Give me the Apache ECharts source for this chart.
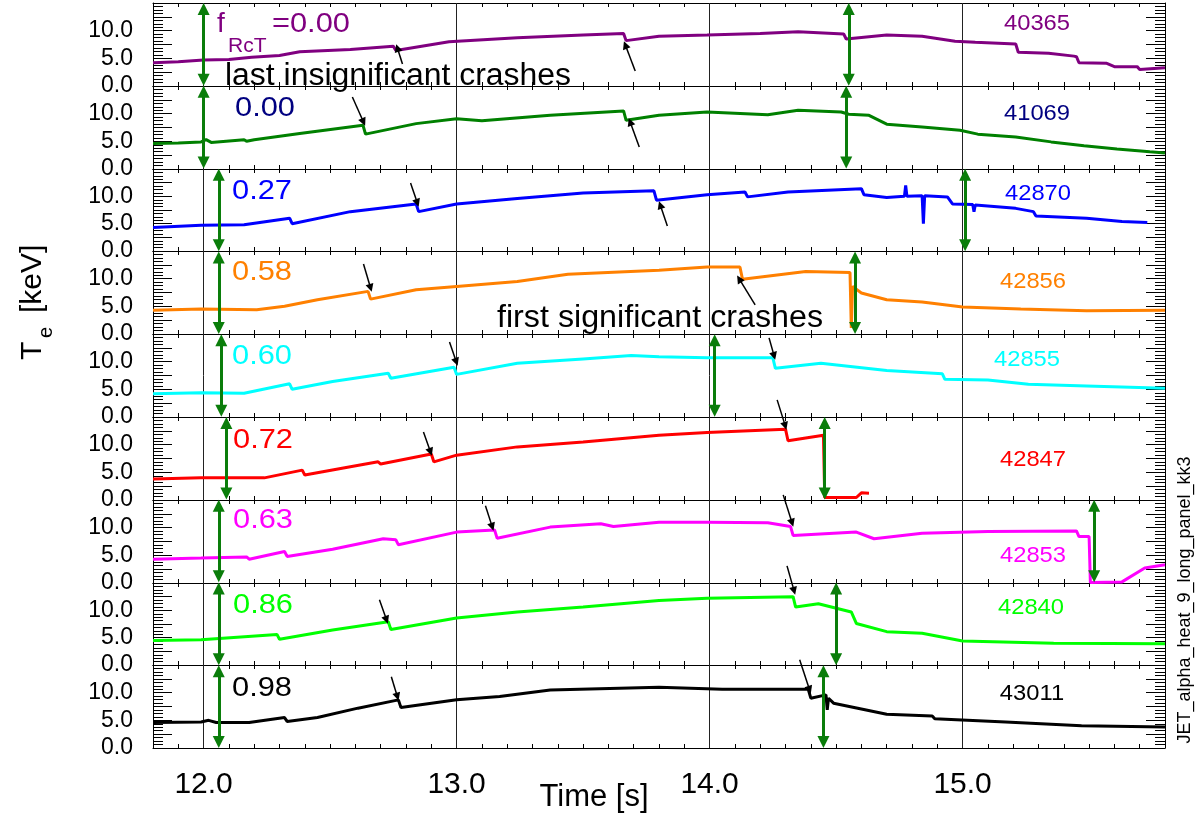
<!DOCTYPE html>
<html>
<head>
<meta charset="utf-8">
<title>JET alpha heat - Te traces</title>
<script src="https://cdn.jsdelivr.net/npm/echarts@6/dist/echarts.min.js"></script>
<style>
html, body { margin: 0; padding: 0; background: #fff; }
#chart { width: 1196px; height: 818px; }
</style>
</head>
<body>
<div id="chart"></div>
<script>
// panels, top to bottom
var shots = ['40365', '41069', '42870', '42856', '42855', '42847', '42853', '42840', '43011'];
var fRcT = ['0.00', '0.00', '0.27', '0.58', '0.60', '0.72', '0.63', '0.86', '0.98'];
var lineColors = ['#800080', '#008000', '#0000ff', '#ff8000', '#00ffff', '#ff0000', '#ff00ff', '#00ff00', '#000000'];
var textColors = ['#800080', '#000080', '#0000ff', '#ff8000', '#00ffff', '#ff0000', '#ff00ff', '#00ff00', '#000000'];

// Te [keV] against time [s]
var time40365 = [11.80, 11.90, 12.00, 12.10, 12.19, 12.30, 12.38, 12.58, 12.75, 12.76, 12.97, 13.24, 13.50, 13.66, 13.67, 13.80, 13.99, 14.20, 14.35, 14.53, 14.54, 14.70, 14.84, 14.97, 15.05, 15.21, 15.22, 15.34, 15.44, 15.45, 15.46, 15.57, 15.60, 15.69, 15.70, 15.80];
var te40365 = [4.2, 4.4, 4.7, 4.8, 5.2, 5.5, 6.2, 6.6, 7.2, 6.4, 8.0, 8.7, 9.2, 9.5, 8.2, 9.0, 9.2, 9.5, 9.8, 9.4, 8.5, 9.2, 9.0, 8.1, 7.9, 7.6, 6.1, 5.9, 5.4, 5.3, 4.2, 4.1, 3.5, 3.5, 3.0, 3.3];

var time41069 = [11.80, 11.90, 11.99, 12.01, 12.03, 12.16, 12.17, 12.20, 12.38, 12.63, 12.64, 12.84, 13.00, 13.10, 13.37, 13.66, 13.67, 13.80, 13.99, 14.23, 14.35, 14.52, 14.55, 14.63, 14.70, 14.84, 14.99, 15.06, 15.21, 15.35, 15.48, 15.61, 15.74, 15.80];
var te41069 = [4.6, 4.7, 4.9, 5.3, 4.8, 5.3, 5.0, 5.3, 6.4, 7.9, 6.3, 8.2, 9.1, 8.7, 9.7, 10.5, 8.8, 9.7, 10.3, 9.8, 10.6, 10.3, 9.9, 9.7, 8.1, 7.6, 7.0, 6.3, 5.8, 4.9, 4.2, 3.6, 3.1, 2.9];

var time42870 = [11.80, 11.99, 12.16, 12.34, 12.35, 12.58, 12.84, 12.85, 13.00, 13.24, 13.50, 13.78, 13.79, 13.99, 14.14, 14.15, 14.31, 14.60, 14.61, 14.70, 14.77, 14.775, 14.78, 14.84, 14.845, 14.85, 14.94, 14.96, 15.04, 15.045, 15.05, 15.21, 15.28, 15.29, 15.49, 15.63, 15.73];
var te42870 = [4.3, 4.7, 4.8, 6.0, 5.0, 7.2, 8.6, 7.2, 8.6, 9.6, 10.6, 11.0, 9.3, 10.3, 10.8, 9.9, 10.8, 11.4, 10.3, 9.8, 10.0, 12.0, 10.0, 10.1, 5.0, 10.1, 9.9, 8.6, 8.5, 7.2, 8.4, 7.8, 7.2, 6.4, 6.0, 5.4, 5.2];

var time42856 = [11.80, 11.99, 12.21, 12.32, 12.45, 12.65, 12.66, 12.84, 13.00, 13.24, 13.44, 13.80, 13.99, 14.12, 14.13, 14.38, 14.555, 14.56, 14.565, 14.60, 14.70, 14.84, 15.00, 15.23, 15.49, 15.80];
var te42856 = [4.3, 4.5, 4.4, 5.0, 6.2, 7.7, 6.3, 8.0, 8.6, 9.5, 10.8, 11.5, 12.1, 12.1, 9.9, 11.3, 11.1, 1.1, 8.6, 7.4, 6.2, 5.8, 4.9, 4.5, 4.2, 4.3];

var time42855 = [11.80, 11.99, 12.16, 12.34, 12.35, 12.51, 12.73, 12.74, 12.99, 13.00, 13.24, 13.50, 13.69, 13.80, 13.99, 14.25, 14.26, 14.44, 14.70, 14.92, 14.93, 15.10, 15.26, 15.49, 15.80];
var te42855 = [4.2, 4.4, 4.3, 6.0, 5.0, 6.4, 7.9, 7.0, 9.0, 7.7, 9.7, 10.5, 11.1, 10.9, 10.7, 10.7, 8.8, 9.7, 8.4, 7.8, 6.8, 6.7, 5.9, 5.6, 5.2];

var time42847 = [11.80, 11.99, 12.24, 12.39, 12.40, 12.58, 12.69, 12.70, 12.90, 12.91, 13.00, 13.24, 13.50, 13.80, 13.99, 14.30, 14.31, 14.45, 14.455, 14.58, 14.60, 14.63];
var te42847 = [3.8, 4.0, 4.0, 5.4, 4.5, 6.0, 6.9, 6.5, 8.3, 6.9, 8.1, 9.6, 10.5, 11.7, 12.2, 12.8, 10.7, 11.7, 0.45, 0.45, 1.3, 1.2];

var time42853 = [11.80, 11.99, 12.17, 12.18, 12.32, 12.33, 12.51, 12.71, 12.76, 12.77, 13.00, 13.15, 13.16, 13.37, 13.57, 13.62, 13.80, 13.99, 14.23, 14.32, 14.33, 14.58, 14.65, 14.84, 15.10, 15.45, 15.46, 15.50, 15.505, 15.63, 15.72, 15.80];
var te42853 = [4.3, 4.5, 4.7, 4.3, 5.7, 4.8, 6.1, 8.0, 7.8, 6.9, 9.2, 9.6, 8.1, 10.1, 10.7, 10.2, 11.0, 11.0, 10.9, 10.2, 8.6, 9.2, 8.0, 9.0, 9.3, 9.4, 8.4, 8.4, 0.1, 0.2, 2.7, 3.3];

var time42840 = [11.80, 11.99, 12.29, 12.30, 12.51, 12.73, 12.74, 13.00, 13.24, 13.50, 13.80, 13.99, 14.33, 14.34, 14.43, 14.56, 14.58, 14.70, 14.84, 15.00, 15.36, 15.80];
var te42840 = [4.5, 4.6, 5.6, 4.7, 6.4, 7.9, 6.5, 8.6, 9.7, 10.6, 11.8, 12.2, 12.5, 10.6, 11.2, 9.7, 7.6, 6.1, 5.8, 4.4, 4.0, 3.9];

var time43011 = [11.80, 11.99, 12.02, 12.05, 12.18, 12.32, 12.33, 12.45, 12.61, 12.77, 12.78, 13.00, 13.17, 13.37, 13.80, 14.05, 14.39, 14.40, 14.46, 14.465, 14.47, 14.49, 14.70, 14.88, 14.89, 15.17, 15.47, 15.80];
var te43011 = [4.6, 4.7, 5.0, 4.6, 4.6, 5.5, 4.8, 5.5, 7.2, 8.7, 7.3, 8.7, 9.3, 10.5, 11.0, 10.6, 10.6, 9.0, 9.6, 6.9, 9.0, 8.1, 6.1, 5.8, 5.3, 4.7, 4.0, 3.8];

var traces = [
  [time40365, te40365], [time41069, te41069], [time42870, te42870],
  [time42856, te42856], [time42855, te42855], [time42847, te42847],
  [time42853, te42853], [time42840, te42840], [time43011, te43011]
];

var majorTimes = [12, 13, 14, 15];

// green double arrows: panel and time
var arrowPanel = [0, 0, 1, 1, 2, 2, 3, 3, 4, 4, 5, 5, 6, 6, 7, 7, 8, 8];
var arrowTime = [12.00, 14.55, 12.00, 14.54, 12.06, 15.01, 12.06, 14.575, 12.07, 14.02, 12.09, 14.455, 12.06, 15.52, 12.06, 14.50, 12.06, 14.45];

// black crash pointers: panel, tail (t, Te), tip (t, Te)
var crashPanel = [0, 0, 1, 1, 2, 2, 3, 3, 4, 4, 5, 5, 6, 6, 7, 7, 8, 8];
var crashTailT = [12.786, 13.706, 12.588, 13.722, 12.818, 13.833, 12.632, 14.180, 12.972, 14.235, 12.869, 14.267, 13.114, 14.291, 12.695, 14.306, 12.742, 14.356];
var crashTailTe = [3.95, 2.68, 12.97, 3.91, 12.39, 4.6, 12.72, 5.29, 13.59, 14.31, 12.28, 18.08, 13.91, 15.87, 11.85, 18.0, 12.9, 15.98];
var crashTipT = [12.766, 13.667, 12.632, 13.686, 12.845, 13.805, 12.660, 14.117, 12.999, 14.255, 12.897, 14.299, 13.141, 14.326, 12.723, 14.334, 12.766, 14.395];
var crashTipTe = [6.85, 7.39, 8.44, 8.44, 8.77, 8.41, 8.37, 10.0, 9.96, 11.05, 8.66, 13.37, 10.07, 10.8, 8.22, 13.48, 9.28, 10.54];

var chart = echarts.init(document.getElementById('chart'));
var FONT = '"Liberation Sans", Arial, Helvetica, sans-serif';
var X0 = 153, X1 = 1165, Y0 = 3, PH = 82.8, NP = 9;
var TMIN = 11.8, TMAX = 15.8, YMAX = 15;
var HEAD = 1.1; // half arrow head in keV

function isMajor(v) { return Math.abs(v - Math.round(v)) < 1e-6; }
function panelTop(k) { return Math.round(Y0 + k * PH); }

var grids = [], xAxes = [], yAxes = [], series = [];

for (var k = 0; k < NP; k++) {
  var pTop = panelTop(k), pBot = panelTop(k + 1);
  grids.push({ left: X0, width: X1 - X0, top: pTop, height: pBot - pTop });
  xAxes.push({
    gridIndex: k, type: 'value', min: TMIN, max: TMAX, interval: 0.1, position: 'bottom',
    axisLine: { show: true, onZero: false, lineStyle: { color: '#000', width: 1 } },
    axisTick: { show: true, inside: true, length: 4, lineStyle: { color: '#000' } },
    splitLine: { show: false },
    axisLabel: {
      show: k === NP - 1, margin: 22, fontSize: 30, fontFamily: FONT, color: '#000',
      formatter: function (v) { return isMajor(v) ? v.toFixed(1) : ''; }
    }
  });
  xAxes.push({
    gridIndex: k, type: 'value', min: TMIN, max: TMAX, interval: 0.1, position: 'top',
    axisLine: { show: true, onZero: false, lineStyle: { color: '#000', width: 1 } },
    axisTick: { show: true, inside: true, length: 4, lineStyle: { color: '#000' } },
    splitLine: { show: false }, axisLabel: { show: false }
  });
  yAxes.push({
    gridIndex: k, type: 'value', min: 0, max: YMAX, interval: 2.5, position: 'left',
    axisLine: { show: true, onZero: false, lineStyle: { color: '#000', width: 1 } },
    axisTick: { show: true, inside: true, length: 19, lineStyle: { color: '#000' } },
    minorTick: { show: true, splitNumber: 4, length: 10, lineStyle: { color: '#000' } },
    splitLine: { show: false },
    axisLabel: {
      margin: 20, fontSize: 23, fontFamily: FONT, color: '#000', padding: [0, 0, 8, 0],
      formatter: function (v) { return (v % 5 === 0 && v < YMAX) ? v.toFixed(1) : ''; }
    }
  });
  yAxes.push({
    gridIndex: k, type: 'value', min: 0, max: YMAX, interval: 2.5, position: 'right',
    axisLine: { show: true, onZero: false, lineStyle: { color: '#000', width: 1 } },
    axisTick: { show: true, inside: true, length: 19, lineStyle: { color: '#000' } },
    minorTick: { show: true, splitNumber: 4, length: 10, lineStyle: { color: '#000' } },
    splitLine: { show: false }, axisLabel: { show: false }
  });
  var tr = traces[k];
  series.push({
    type: 'line', xAxisIndex: 2 * k, yAxisIndex: 2 * k, z: 2,
    symbol: 'none', silent: true,
    lineStyle: { width: 3, color: lineColors[k] },
    data: tr[0].map(function (t, i) { return [t, tr[1][i]]; })
  });
}

// overlay grid spanning all panels, for grid lines and arrows
var OV = NP * 2;
grids.push({ left: X0, width: X1 - X0, top: Y0, height: panelTop(NP) - Y0 });
xAxes.push({ gridIndex: NP, type: 'value', min: TMIN, max: TMAX, show: false });
yAxes.push({ gridIndex: NP, type: 'value', min: 0, max: NP * YMAX, show: false });
function gy(panel, te) { return (NP - 1 - panel) * YMAX + te; }

series.push({
  type: 'lines', coordinateSystem: 'cartesian2d', xAxisIndex: OV, yAxisIndex: OV, z: 1, silent: true,
  lineStyle: { color: '#222', width: 1, opacity: 1 },
  data: majorTimes.map(function (t) { return { coords: [[t, 0], [t, NP * YMAX]] }; })
});
series.push({
  type: 'lines', coordinateSystem: 'cartesian2d', xAxisIndex: OV, yAxisIndex: OV, z: 3, silent: true,
  symbol: ['triangle', 'triangle'], symbolSize: 12,
  lineStyle: { color: '#0a7d0a', width: 3, opacity: 1 },
  data: arrowTime.map(function (t, i) {
    return { coords: [[t, gy(arrowPanel[i], HEAD)], [t, gy(arrowPanel[i], YMAX - HEAD)]] };
  })
});
series.push({
  type: 'lines', coordinateSystem: 'cartesian2d', xAxisIndex: OV, yAxisIndex: OV, z: 4, silent: true,
  symbol: ['none', 'triangle'], symbolSize: 8,
  lineStyle: { color: '#000', width: 1.5, opacity: 1 },
  data: crashPanel.map(function (p, i) {
    return { coords: [[crashTailT[i], gy(p, crashTailTe[i])], [crashTipT[i], gy(p, crashTipTe[i])]] };
  })
});

// text layout
var shotX = [1037, 1037, 1038, 1033, 1027, 1033, 1033, 1031, 1032];
var shotY = [24, 114, 194, 282, 360, 460, 556, 608, 694];
var fX = [272, 235, 232, 232, 232, 233, 233, 233, 232];
var fY = [24, 108, 191, 272, 356, 440, 520, 605, 688];

function txt(x, y, str, size, color, extra) {
  var g = {
    type: 'text', x: x, y: y, z: 20, silent: true,
    style: { text: str, fontSize: size, fontFamily: FONT, fill: color, align: 'left', verticalAlign: 'middle' }
  };
  if (extra) {
    for (var key in extra) {
      if (key === 'style') { for (var s in extra.style) g.style[s] = extra.style[s]; }
      else g[key] = extra[key];
    }
  }
  return g;
}

var graphics = [];
for (var i = 0; i < NP; i++) {
  graphics.push(txt(shotX[i], shotY[i], shots[i], 22, textColors[i], { scaleX: 1.08, style: { align: 'center' } }));
  graphics.push(txt(fX[i], fY[i], (i === 0 ? '=' : '') + fRcT[i], 28, textColors[i], { scaleX: 1.1 }));
}
graphics.push(txt(217, 24, 'f', 28, textColors[0]));
graphics.push(txt(228, 46, 'RcT', 21, textColors[0]));
graphics.push(txt(225, 76, 'last insignificant crashes', 31, '#000', { scaleX: 1.03 }));
graphics.push(txt(497, 318, 'first significant crashes', 31, '#000', { scaleX: 1.04 }));
graphics.push(txt(594, 797, 'Time [s]', 31, '#000', { style: { align: 'center' } }));
// vertical axis title T_e [keV]
graphics.push(txt(33, 360, 'T', 30, '#000', { rotation: Math.PI / 2 }));
graphics.push(txt(46, 338, 'e', 20, '#000', { rotation: Math.PI / 2 }));
graphics.push(txt(33, 313, '[keV]', 30, '#000', { rotation: Math.PI / 2 }));
graphics.push(txt(1185, 600, 'JET_alpha_heat_9_long_panel_kk3', 18, '#000', { rotation: Math.PI / 2, style: { align: 'center' } }));

chart.setOption({
  animation: false,
  backgroundColor: '#fff',
  grid: grids,
  xAxis: xAxes,
  yAxis: yAxes,
  series: series,
  graphic: graphics
});
</script>
</body>
</html>
